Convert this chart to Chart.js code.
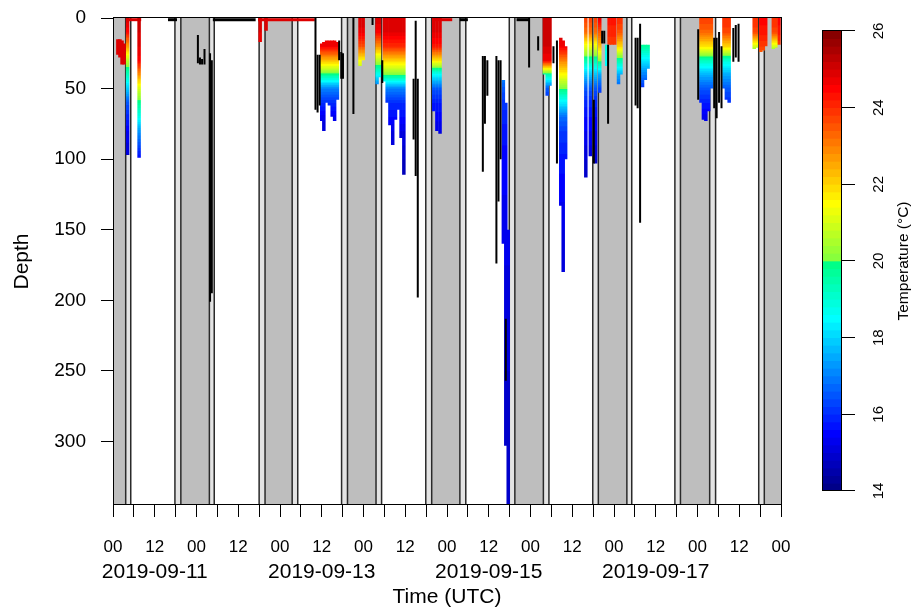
<!doctype html>
<html>
<head>
<meta charset="utf-8">
<title>Depth and temperature</title>
<script src="https://cdn.jsdelivr.net/npm/chart.js@4.4.0/dist/chart.umd.min.js"></script>
<style>
	body { margin: 0; background: #fff; overflow: hidden; }
	#wrap { position: relative; width: 915px; height: 610px; }
	#main { position: absolute; left: 0; top: 0; }
	#cbar { position: absolute; left: 623px; top: 211px; transform: rotate(-90deg); }
</style>
</head>
<body>
<div id="wrap">
	<canvas id="main" width="915" height="610"></canvas>
	<canvas id="cbar" width="484" height="100"></canvas>
</div>
<script>
	// time is in hours since 2019-09-11 00:00 UTC
	var hourMin = 0, hourMax = 192;
	var dateTickHours = [12, 60, 108, 156];
	var dateTickLabels = ['2019-09-11', '2019-09-13', '2019-09-15', '2019-09-17'];
	var depthMax = 345;

	// night shading (hours): twilight band and darker night band
	var twilightStart = [-6.2, 17.8, 42.0, 65.7, 89.9, 113.9, 137.9, 161.5, 185.6];
	var nightStart    = [-4.6, 19.5, 43.7, 67.4, 91.6, 115.5, 139.5, 163.1, 187.2];
	var nightEnd      = [3.65, 27.7, 51.5, 75.6, 99.7, 123.7, 147.7, 171.5, 195.6];
	var twilightEnd   = [5.1, 29.1, 53.1, 77.2, 101.4, 125.3, 149.1, 173.2, 197.2];

	// temperature profiles (degC) read at these depths (m)
	var levelDepths = [0, 10, 20, 30, 40, 50, 60, 70, 80, 100, 150, 200, 350];
	var profileTemps = [
		[24.8, 24.8, 24.8, 24.8, 24.8, 24.8, 24.8, 24.8, 24.8, 24.8, 24.8, 24.8, 24.8],
		[25.0, 24.4, 22.6, 20.6, 19.3, 17.9, 16.5, 15.9, 15.4, 14.9, 14.5, 14.4, 14.2],
		[25.0, 25.0, 24.8, 24.5, 22.8, 21.0, 19.8, 18.7, 17.3, 15.5, 14.8, 14.5, 14.2],
		[24.8, 24.8, 24.6, 24.2, 23.5, 22.0, 20.0, 18.0, 17.0, 16.0, 15.0, 14.5, 14.2],
		[25.0, 25.0, 24.6, 22.3, 19.8, 17.0, 16.0, 15.3, 15.0, 14.8, 14.5, 14.4, 14.2],
		[25.0, 24.7, 23.6, 21.5, 20.0, 19.0, 18.0, 17.0, 16.0, 15.0, 14.5, 14.4, 14.2],
		[25.0, 24.5, 22.8, 20.6, 18.6, 16.5, 16.0, 15.5, 15.2, 15.0, 14.7, 14.5, 14.2],
		[25.0, 24.8, 24.0, 22.0, 20.0, 17.0, 16.0, 15.6, 15.2, 14.8, 14.5, 14.4, 14.2],
		[25.0, 24.8, 24.3, 21.8, 18.5, 16.5, 15.8, 15.5, 15.2, 15.0, 14.7, 14.5, 14.2],
		[17.5, 17.5, 17.5, 17.4, 17.2, 16.5, 16.1, 15.9, 15.7, 15.5, 15.3, 15.1, 14.8],
		[25.0, 25.0, 25.0, 24.6, 19.5, 16.5, 16.0, 15.6, 15.3, 15.0, 14.7, 14.5, 14.2],
		[25.0, 25.0, 24.6, 23.0, 21.5, 20.0, 18.3, 16.8, 16.2, 15.7, 15.2, 15.0, 14.8],
		[23.8, 23.2, 21.3, 19.5, 17.8, 16.5, 15.9, 15.6, 15.4, 15.0, 14.7, 14.5, 14.2],
		[24.8, 23.5, 22.3, 20.2, 17.5, 16.3, 15.8, 15.5, 15.2, 15.0, 14.7, 14.5, 14.2],
		[19.0, 19.0, 18.9, 18.6, 18.2, 17.5, 17.0, 16.5, 16.0, 15.5, 15.0, 14.7, 14.3],
		[24.3, 24.1, 23.8, 23.0, 22.0, 21.0, 20.0, 19.0, 18.0, 17.0, 16.0, 15.0, 14.5],
		[24.0, 23.5, 22.0, 19.5, 17.5, 16.5, 16.0, 15.6, 15.3, 15.0, 14.7, 14.5, 14.2],
		[20.5, 20.2, 19.6, 18.3, 17.0, 16.0, 15.6, 15.3, 15.0, 14.8, 14.5, 14.4, 14.2],
		[23.8, 23.3, 21.8, 19.3, 17.6, 16.5, 15.8, 15.3, 15.0, 14.8, 14.6, 14.5, 14.2],
		[24.0, 23.7, 22.0, 19.0, 17.5, 16.5, 16.0, 15.6, 15.3, 15.0, 14.7, 14.5, 14.2],
		[24.0, 23.7, 21.0, 18.0, 17.0, 16.0, 15.5, 15.2, 15.0, 14.8, 14.5, 14.4, 14.2],
		[24.5, 24.3, 23.8, 23.0, 21.0, 19.0, 17.0, 16.0, 15.5, 15.0, 14.7, 14.5, 14.2]
	];

	// profiles with temperature: time, top and bottom depth, profile used
	var castHours = [
		1.4, 2.0, 2.6, 3.2, 4.2, 7.5, 42.3, 44.0,
		60.0, 60.6, 61.4, 62.2, 63.0, 63.7, 64.5,
		71.0, 71.9, 75.9, 76.6,
		78.0, 78.8, 79.6, 80.4, 81.2, 82.0, 82.8, 83.6,
		92.2, 93.1, 94.0, 112.2, 112.9, 113.6,
		124.0, 124.8, 125.6, 128.7, 129.4, 130.1,
		135.9, 137.2, 138.7, 139.9, 141.9, 142.6, 143.4, 144.2, 145.3, 146.0,
		152.2, 153.0, 153.8,
		169.0, 169.7, 170.4, 171.2, 172.0, 175.6, 176.3, 177.1,
		184.3, 184.9, 186.2, 186.9, 187.6, 189.8, 190.5, 191.4
	];
	var castTop = [
		15, 15, 16, 18, 0, 0, 0, 0,
		18, 17, 16, 16, 16, 16, 17,
		0, 0, 0, 0,
		0, 0, 0, 0, 0, 0, 0, 0,
		0, 0, 0, 44, 60, 150,
		0, 0, 0, 14, 16, 20,
		0, 0, 0, 0, 19, 0, 0, 0, 0, 0,
		19, 19, 19,
		0, 0, 0, 0, 0, 0, 0, 0,
		0, 0, 0, 0, 0, 0, 0, 0
	];
	var castBottom = [
		26, 28, 33, 33, 97, 99, 17, 9,
		73, 80, 60, 62, 70, 73, 58,
		34, 30, 47, 42,
		45, 60, 76, 90, 72, 65, 85, 111,
		66, 80, 82, 160, 303, 345,
		40, 55, 48, 133, 180, 100,
		113, 98, 103, 53, 34, 19, 19, 19, 47, 40,
		49, 44, 36,
		60, 72, 73, 66, 50, 50, 58, 60,
		22, 21, 24, 23, 20, 22, 21, 19
	];
	var castProfile = [
		0, 0, 0, 0, 1, 2, 3, 3,
		4, 4, 4, 4, 4, 4, 4,
		5, 5, 6, 6,
		7, 7, 7, 7, 7, 7, 7, 7,
		8, 8, 8, 9, 9, 9,
		10, 10, 10, 11, 11, 11,
		12, 12, 12, 13, 14, 15, 15, 15, 16, 16,
		17, 17, 17,
		18, 18, 18, 18, 18, 19, 19, 19,
		20, 20, 21, 21, 21, 20, 20, 21
	];

	// profiles without temperature (drawn black)
	var bareHours = [
		24.4, 25.0, 25.6, 26.3, 27.9, 28.4, 58.2, 58.8, 59.4, 65.0, 65.6,
		66.1, 69.1, 74.6, 77.4, 86.4, 87.0, 87.6, 106.3, 106.9, 107.6, 110.2,
		110.8, 111.4, 112.9, 119.6, 122.2, 126.6, 127.6, 138.2, 140.6, 141.2,
		142.3, 150.2, 150.8, 151.5, 168.2, 172.8, 173.5, 174.2, 174.9, 178.3,
		179.0, 179.8
	];
	var bareTop = [
		12, 28, 29, 22, 25, 30, 0, 26, 26, 16, 24,
		25, 0, 0, 30, 43, 2, 43, 27, 27, 30, 27,
		30, 30, 213, 0, 13, 20, 16, 58, 9, 9,
		19, 14, 14, 4, 8, 14, 14, 10, 20, 7,
		5, 4
	];
	var bareBottom = [
		32, 33, 33, 33, 201, 195, 65, 67, 62, 30, 43,
		43, 68, 5, 46, 86, 112, 198, 109, 75, 55, 174,
		130, 100, 257, 35, 23, 32, 103, 103, 18, 18,
		75, 62, 64, 145, 58, 64, 71, 60, 64, 31,
		28, 31
	];

	// tracks at the surface: start, end, profile (-1 = no temperature)
	var surfStart = [3.7, 15.8, 28.7, 41.7, 92.5, 99.7, 116.0];
	var surfEnd = [8.1, 18.4, 41.0, 58.0, 97.5, 102.0, 119.6];
	var surfProfile = [3, -1, -1, 3, 3, -1, -1];

	// colour bar
	var cbMin = 14, cbMax = 26, cbStep = 0.2;
	var paletteTemps = [14, 15.5, 17, 18.5, 19.99, 20, 21.5, 23, 24.5, 26];
	var paletteColors = [[0, 0, 127], [0, 0, 255], [0, 127, 255], [0, 255, 255], [0, 255, 128],
		[128, 255, 64], [255, 255, 0], [255, 128, 0], [255, 0, 0], [127, 0, 0]];

	var fontFamily = '"Liberation Sans", Arial, sans-serif';
	Chart.defaults.font.family = fontFamily;
	Chart.defaults.color = '#000';
	Chart.defaults.elements.point.radius = 0;

	function tempColor(t) {
		var q = Math.floor((t - cbMin) / cbStep + 1e-6) * cbStep + cbMin + cbStep / 2;
		q = Math.max(cbMin, Math.min(cbMax, q));
		for (var i = 1; i < paletteTemps.length; i++) {
			if (q <= paletteTemps[i]) {
				var f = (q - paletteTemps[i - 1]) / (paletteTemps[i] - paletteTemps[i - 1]);
				var a = paletteColors[i - 1], b = paletteColors[i];
				return 'rgb(' + Math.round(a[0] + f * (b[0] - a[0])) + ',' +
					Math.round(a[1] + f * (b[1] - a[1])) + ',' + Math.round(a[2] + f * (b[2] - a[2])) + ')';
			}
		}
		var c = paletteColors[paletteColors.length - 1];
		return 'rgb(' + c.join(',') + ')';
	}

	function tempAt(temps, d) {
		for (var i = 1; i < levelDepths.length; i++) {
			if (d <= levelDepths[i]) {
				var f = (d - levelDepths[i - 1]) / (levelDepths[i] - levelDepths[i - 1]);
				return temps[i - 1] + f * (temps[i] - temps[i - 1]);
			}
		}
		return temps[temps.length - 1];
	}

	var gradientCache = {};
	function castGradient(chart, p) {
		var area = chart.chartArea;
		if (!area) return '#000';
		var key = p + ':' + area.top + ':' + area.bottom;
		if (gradientCache[key]) return gradientCache[key];
		var y = chart.scales.y;
		var g = chart.ctx.createLinearGradient(0, y.getPixelForValue(0), 0, y.getPixelForValue(depthMax));
		for (var d = 0; d <= depthMax; d += 0.5) {
			g.addColorStop(d / depthMax, tempColor(tempAt(profileTemps[p], d)));
		}
		gradientCache[key] = g;
		return g;
	}

	var framePlugin = {
		id: 'frame',
		afterDraw: function(chart) {
			var a = chart.chartArea, c = chart.ctx;
			c.save();
			c.strokeStyle = '#000';
			c.lineWidth = 1;
			c.strokeRect(Math.round(a.left) + 0.5, Math.round(a.top) - 0.5,
				Math.round(a.right - a.left), Math.round(a.bottom - a.top));
			c.restore();
		}
	};

	// keep the plot box where it is: no extra room for edge labels
	function noEdgePadding(s) {
		s.paddingTop = 0;
		s.paddingBottom = 0;
		s.paddingLeft = 0;
		s.paddingRight = 0;
	}

	function band(s, e, color, order) {
		return {
			data: [{x: s, y: 0}, {x: s, y: depthMax}, {x: e, y: depthMax}, {x: e, y: 0}],
			fill: 'origin',
			backgroundColor: color,
			borderColor: '#2a2a2a',
			borderWidth: 1.5,
			order: order
		};
	}

	var datasets = [];
	twilightStart.forEach(function(s, i) {
		datasets.push(band(s, twilightEnd[i], '#e3e3e3', 20));
	});
	nightStart.forEach(function(s, i) {
		datasets.push(band(s, nightEnd[i], '#bebebe', 19));
	});
	surfStart.forEach(function(s, i) {
		var p = surfProfile[i];
		datasets.push({
			data: [{x: s, y: 1.2}, {x: surfEnd[i], y: 1.2}],
			borderColor: p < 0 ? '#000' : tempColor(profileTemps[p][0]),
			borderWidth: 3,
			order: 3
		});
	});
	castHours.forEach(function(h, i) {
		var p = castProfile[i];
		datasets.push({
			data: [{x: h, y: castTop[i]}, {x: h, y: castBottom[i]}],
			borderColor: function(ctx) { return castGradient(ctx.chart, p); },
			borderWidth: 3.5,
			borderCapStyle: 'butt',
			order: 2
		});
	});
	bareHours.forEach(function(h, i) {
		datasets.push({
			data: [{x: h, y: bareTop[i]}, {x: h, y: bareBottom[i]}],
			borderColor: '#000',
			borderWidth: 2,
			borderCapStyle: 'butt',
			order: 1
		});
	});

	var mainChart = new Chart(document.getElementById('main'), {
		type: 'line',
		data: { datasets: datasets },
		options: {
			responsive: false,
			animation: false,
			events: [],
			layout: { padding: { top: 18, right: 134, bottom: 0, left: 0 } },
			plugins: { legend: { display: false }, tooltip: { enabled: false } },
			scales: {
				x: {
					type: 'linear', position: 'bottom', weight: 0,
					min: hourMin, max: hourMax,
					ticks: {
						stepSize: 6, autoSkip: false, maxRotation: 0, padding: 22,
						font: { size: 17, lineHeight: 1 },
						callback: function(v) {
							if (v % 24 === 0) return '00';
							if (v % 24 === 12) return '12';
							return '';
						}
					},
					grid: { drawOnChartArea: false, tickLength: 12, tickColor: '#000' },
					border: { display: false },
					afterFit: function(s) { s.height = 55; noEdgePadding(s); }
				},
				xd: {
					type: 'linear', position: 'bottom', weight: 1,
					min: hourMin, max: hourMax,
					afterBuildTicks: function(s) {
						s.ticks = dateTickHours.map(function(v) { return { value: v }; });
					},
					ticks: {
						autoSkip: false, maxRotation: 0, padding: 1.5,
						font: { size: 21, lineHeight: 1 },
						callback: function(v, i) { return dateTickLabels[i]; }
					},
					grid: { display: false, drawTicks: false },
					border: { display: false },
					title: {
						display: true, text: 'Time (UTC)',
						font: { size: 21, lineHeight: 1 },
						padding: { top: 0, bottom: 2.5 }
					},
					afterFit: function(s) { s.height = 50; noEdgePadding(s); }
				},
				y: {
					type: 'linear', reverse: true,
					min: 0, max: depthMax,
					ticks: {
						stepSize: 50, includeBounds: false, padding: 15,
						font: { size: 19, lineHeight: 1 }
					},
					grid: { drawOnChartArea: false, tickLength: 12, tickColor: '#000' },
					border: { display: false },
					title: {
						display: true, text: 'Depth',
						font: { size: 21, lineHeight: 1 },
						padding: { top: 12, bottom: 0 }
					},
					afterFit: function(s) { s.width = 113; noEdgePadding(s); }
				}
			}
		},
		plugins: [framePlugin]
	});

	// colour bar, drawn horizontally and turned upright with CSS
	var binCentres = [];
	for (var k = 0; k < Math.round((cbMax - cbMin) / cbStep); k++) {
		binCentres.push(cbMin + (k + 0.5) * cbStep);
	}
	var colourBar = new Chart(document.getElementById('cbar'), {
		type: 'bar',
		data: {
			datasets: [{
				data: binCentres.map(function(c) { return { x: c, y: 1 }; }),
				backgroundColor: binCentres.map(tempColor),
				barPercentage: 1,
				categoryPercentage: 1,
				borderWidth: 0
			}]
		},
		options: {
			responsive: false,
			animation: false,
			events: [],
			layout: { padding: { top: 8, left: 12, right: 12, bottom: 0 } },
			plugins: { legend: { display: false }, tooltip: { enabled: false } },
			scales: {
				x: {
					type: 'linear', min: cbMin, max: cbMax, offset: false,
					ticks: { stepSize: 2, padding: 16.5, maxRotation: 0, autoSkip: false, font: { size: 15, lineHeight: 1 } },
					grid: { drawOnChartArea: false, offset: false, tickLength: 13, tickColor: '#000' },
					border: { display: false },
					title: {
						display: true, text: 'Temperature (°C)',
						font: { size: 15.5, lineHeight: 1 },
						padding: { top: 0, bottom: 3.5 }
					},
					afterFit: function(s) { s.height = 73; noEdgePadding(s); }
				},
				y: { display: false, min: 0, max: 1 }
			}
		},
		plugins: [framePlugin]
	});
</script>
</body>
</html>
